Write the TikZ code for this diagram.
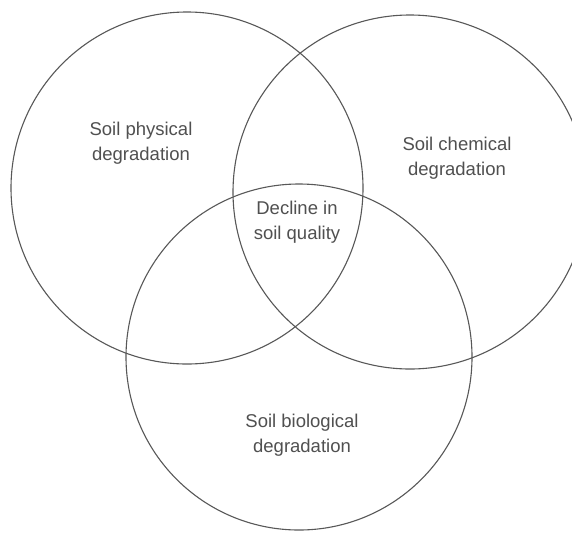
\documentclass[tikz,border=0pt]{standalone}
\usepackage{fontspec}
\setmainfont{Liberation Sans}
\usepackage{xcolor}
\definecolor{ringgray}{RGB}{88,88,88}
\definecolor{textgray}{RGB}{80,80,80}

\begin{document}
\begin{tikzpicture}[x=1pt,y=-1pt]
\tikzstyle{ring}=[draw=ringgray,line width=1.1pt,circle,inner sep=0pt]
\tikzstyle{lbl}=[align=center,text=textgray,inner sep=0pt,font=\fontsize{18.5}{25}\selectfont]
\useasboundingbox[fill=white] (0,0) rectangle (572,533);
% three overlapping rings
\node[ring,minimum size=352pt] (phys) at (187,188) {};
\node[ring,minimum size=354pt] (chem) at (410,192) {};
\node[ring,minimum size=346pt] (bio) at (299,357) {};
% labels
\node[lbl] (physlbl) at (141,143) {Soil physical\\degradation};
\node[lbl] (chemlbl) at (457,158) {Soil chemical\\degradation};
\node[lbl] (core) at (297,222) {Decline in\\soil quality};
\node[lbl] (biolbl) at (302,435) {Soil biological\\degradation};
\end{tikzpicture}
\end{document}
